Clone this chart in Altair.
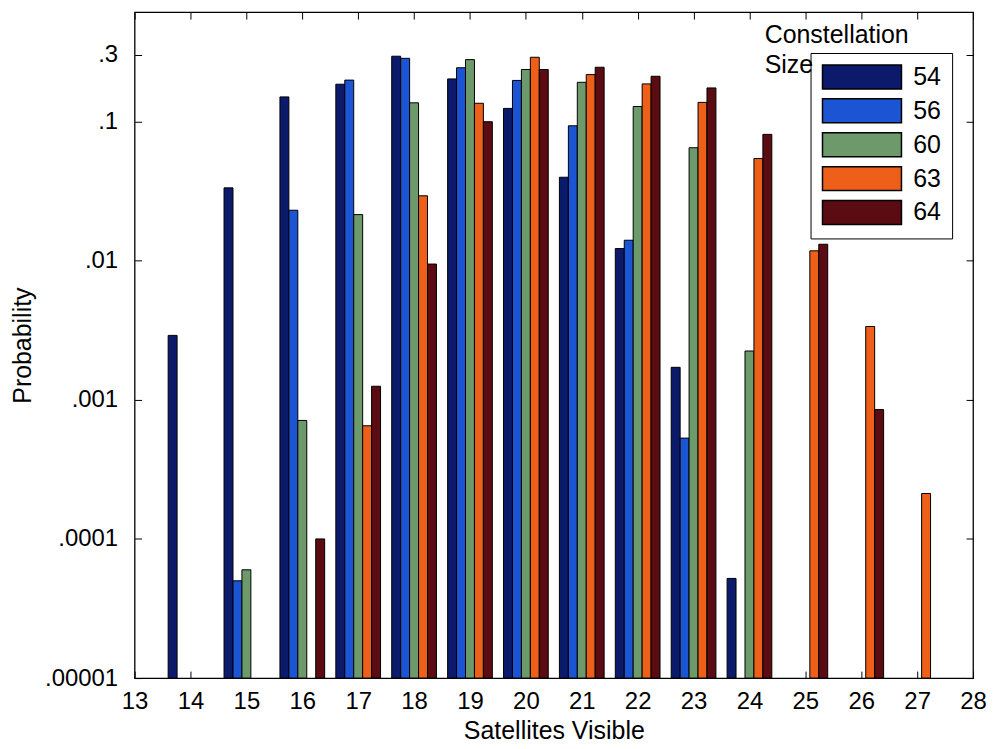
import altair as alt
import pandas as pd

# ---- data ----
satellites = [14, 15, 16, 17, 18, 19, 20, 21, 22, 23, 24, 25, 26, 27]
sizes = ["54", "56", "60", "63", "64"]
colors = ["#0c1a6c", "#1c55d4", "#6c9a6a", "#ee6019", "#5a0c12"]

p54 = [0.0029, 0.0333, 0.150, 0.185, 0.294, 0.202, 0.124, 0.0397, 0.0122, 0.00171, 0.000052, None, None, None]
p56 = [None, 0.000050, 0.023, 0.198, 0.284, 0.243, 0.197, 0.093, 0.0140, 0.00053, None, None, None, None]
p60 = [None, 0.000060, 0.00071, 0.0214, 0.136, 0.278, 0.236, 0.191, 0.128, 0.0647, 0.00224, None, None, None]
p63 = [None, None, None, 0.00065, 0.0292, 0.135, 0.289, 0.217, 0.186, 0.137, 0.0541, 0.01175, 0.00336, 0.000212]
p64 = [None, None, 0.000100, 0.00125, 0.00944, 0.0995, 0.236, 0.245, 0.211, 0.174, 0.0807, 0.0131, 0.00085, None]

x_ticks = list(range(13, 29))
y_ticks = [0.00001, 0.0001, 0.001, 0.01, 0.1, 0.3]
y_domain = [0.00001, 0.61]

series = {"54": p54, "56": p56, "60": p60, "63": p63, "64": p64}
rows = []
for s in sizes:
    for sat, v in zip(satellites, series[s]):
        if v is not None:
            rows.append({"sat": sat, "size": s, "p": v})
df = pd.DataFrame(rows)

W, H = 841, 668
FONT = "Liberation Sans"

xscale = alt.Scale(domain=[13, 28], nice=False, zero=False)
yscale = alt.Scale(type="log", domain=y_domain, nice=False)

size_list = "[" + ",".join("'" + s + "'" for s in sizes) + "]"


def base(chart):
    return chart.transform_calculate(
        xa="datum.sat + (indexof(" + size_list + ", datum.size) - 2.5) * 0.16",
        xb="datum.sat + (indexof(" + size_list + ", datum.size) - 1.5) * 0.16",
        base="0.00001",
    )


# wide legend swatch: 24px tall (size 576 -> unit 12px), ~79px wide
path = "M-1,-1L5.6,-1L5.6,1L-1,1Z"

bars = base(alt.Chart(df).mark_bar(stroke="black", strokeWidth=1)).encode(
    x=alt.X(
        "xa:Q",
        scale=xscale,
        axis=alt.Axis(
            orient="bottom", values=x_ticks, format="d", title="Satellites Visible",
            ticks=False, tickSize=0, domain=False, grid=False,
            labelFontSize=24, labelPadding=12, labelFlush=False, labelOverlap=False,
            labelColor="black", titleFontSize=25, titleFontWeight="normal",
            titleColor="black", titleBaseline="alphabetic", titleY=61,
        ),
    ),
    x2="xb:Q",
    y=alt.Y(
        "p:Q",
        scale=yscale,
        axis=alt.Axis(
            orient="left", values=y_ticks, title="Probability",
            labelExpr="replace(toString(datum.value), '0.', '.')",
            ticks=False, tickSize=0, domain=False, grid=False,
            labelFontSize=24, labelPadding=17, labelColor="black",
            labelFlush=False, labelOverlap=False,
            titleFontSize=25, titleFontWeight="normal", titleColor="black",
            titleX=-104, titleY=H / 2, titleAngle=270,
            titleAlign="center", titleBaseline="alphabetic",
        ),
    ),
    y2="base:Q",
    color=alt.Color(
        "size:N",
        scale=alt.Scale(domain=sizes, range=colors),
        legend=alt.Legend(
            orient="none", legendX=678, legendY=41, title=None,
            symbolType=path, symbolSize=576, symbolStrokeColor="black",
            symbolStrokeWidth=1.5, symbolOpacity=1,
            labelFontSize=25, labelFont=FONT, labelColor="black", labelOffset=66,
            strokeColor="black", padding=11, rowPadding=4,
        ),
    ),
)

# inward ticks at bottom and left
ticks_a = base(alt.Chart(df).mark_bar(opacity=0)).encode(
    x=alt.X("xa:Q", scale=xscale, axis=alt.Axis(
        orient="top", offset=-H, values=x_ticks, labels=False, title=None,
        domain=False, grid=False, tickSize=7, tickColor="black", tickWidth=1)),
    x2="xb:Q",
    y=alt.Y("p:Q", scale=yscale, axis=alt.Axis(
        orient="right", offset=-W, values=y_ticks, labels=False, title=None,
        domain=False, grid=False, tickSize=7, tickColor="black", tickWidth=1)),
    y2="base:Q",
)

# inward ticks at top and right
ticks_b = base(alt.Chart(df).mark_bar(opacity=0)).encode(
    x=alt.X("xa:Q", scale=xscale, axis=alt.Axis(
        orient="bottom", offset=-H, values=x_ticks, labels=False, title=None,
        domain=False, grid=False, tickSize=7, tickColor="black", tickWidth=1)),
    x2="xb:Q",
    y=alt.Y("p:Q", scale=yscale, axis=alt.Axis(
        orient="left", offset=-W, values=y_ticks, labels=False, title=None,
        domain=False, grid=False, tickSize=7, tickColor="black", tickWidth=1)),
    y2="base:Q",
)

legend_title = alt.Chart(pd.DataFrame({"t": ["Constellation\nSize"]})).mark_text(
    align="left", baseline="alphabetic", fontSize=25, font=FONT, color="black",
    lineBreak="\n", lineHeight=30,
).encode(text="t:N", x=alt.value(632), y=alt.value(31))

chart = (
    alt.layer(ticks_a, ticks_b, bars, legend_title)
    .resolve_scale(x="shared", y="shared")
    .resolve_axis(x="independent", y="independent")
    .properties(
        width=W, height=H,
        autosize=alt.AutoSizeParams(type="none"),
        padding={"left": 127, "top": 3, "right": 14, "bottom": 67},
        background="white",
    )
    .configure(font=FONT)
    .configure_view(stroke="black", strokeWidth=1.3)
)

chart.save("out.html", embed_options={"renderer": "svg", "actions": False})
